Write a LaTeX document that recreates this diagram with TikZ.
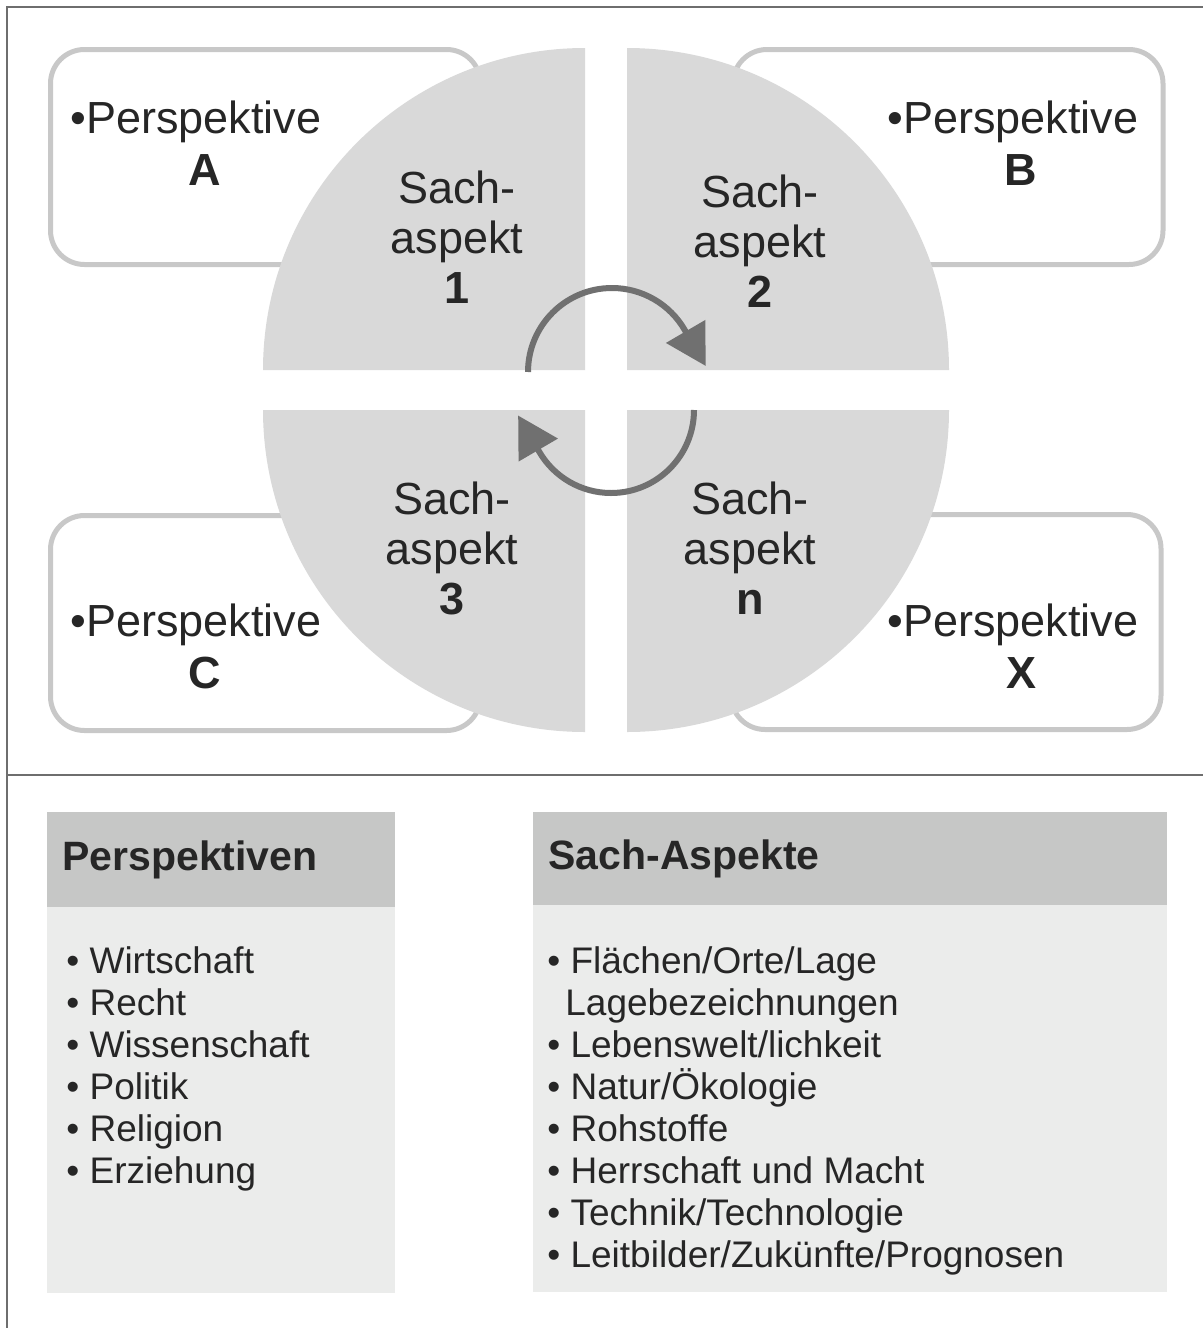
\documentclass[tikz,border=0pt]{standalone}
\usepackage{fontspec}
\setmainfont{Liberation Sans}
\usepackage{tikz}
\usetikzlibrary{arrows.meta}
\definecolor{quartgray}{RGB}{217,217,217}
\definecolor{rimgray}{RGB}{200,200,200}
\definecolor{headgray}{RGB}{198,199,198}
\definecolor{bodygray}{RGB}{235,236,235}
\definecolor{arrowgray}{RGB}{112,112,112}
\definecolor{framegray}{RGB}{110,110,110}
\definecolor{inkgray}{RGB}{38,38,38}
\tikzstyle{frame} = [draw=framegray, line width=1pt]
\tikzstyle{pbox} = [rectangle, draw=rimgray, line width=2.5pt, rounded corners=17pt, fill=white, minimum width=215pt, minimum height=107.5pt, inner sep=0pt]
\tikzstyle{quart} = [fill=quartgray]
\tikzstyle{ptext} = [inner sep=0pt, text=inkgray, font=\fontsize{22.5}{25}\selectfont]
\tikzstyle{sach} = [ptext, align=center]
\tikzstyle{turn} = [draw=arrowgray, line width=3pt, -{Triangle[length=20pt, width=22pt]}]
\tikzstyle{head} = [rectangle, fill=headgray, anchor=north west, inner xsep=7.5pt, inner ysep=0pt, align=left, text=inkgray, font=\bfseries\fontsize{20.5}{24}\selectfont]
\tikzstyle{body} = [rectangle, fill=bodygray, anchor=north west, inner sep=0pt]
\tikzstyle{item} = [inner sep=0pt, anchor=base west, text=inkgray, font=\fontsize{18.5}{21}\selectfont]

\begin{document}
\begin{tikzpicture}[x=0.5pt, y=-0.5pt]
			\useasboundingbox (0,0) rectangle (1203,1328);
			\path [frame] (7,1328) -- (7,7) -- (1203,7);
			\path [frame] (7,775) -- (1203,775);

			\node [pbox] (boxA) at (265.5,157) {};
			\node [pbox] (boxB) at (948,157) {};
			\node [pbox] (boxC) at (265.5,623) {};
			\node [pbox] (boxX) at (946,622) {};

			\fill [quart] (585,370) -- (263,370) arc [start angle=180, end angle=270, radius=322] -- cycle;
			\fill [quart] (627,370) -- (627,48) arc [start angle=270, end angle=360, radius=322] -- cycle;
			\fill [quart] (585,410) -- (263,410) arc [start angle=180, end angle=90, radius=322] -- cycle;
			\fill [quart] (627,410) -- (949,410) arc [start angle=0, end angle=90, radius=322] -- cycle;

			\node [ptext, anchor=base west] (perA) at (70,133) {•Perspektive};
			\node [ptext, anchor=base] (letA) at (205,185) {\bfseries A};
			\node [ptext, anchor=base west] (perB) at (887,133) {•Perspektive};
			\node [ptext, anchor=base] (letB) at (1021,185) {\bfseries B};
			\node [ptext, anchor=base west] (perC) at (70,636) {•Perspektive};
			\node [ptext, anchor=base] (letC) at (205,688) {\bfseries C};
			\node [ptext, anchor=base west] (perX) at (887,636) {•Perspektive};
			\node [ptext, anchor=base] (letX) at (1021,688) {\bfseries X};

			\node [sach] (sach1) at (457,237) {Sach-\\aspekt\\\textbf{1}};
			\node [sach] (sach2) at (760,241) {Sach-\\aspekt\\\textbf{2}};
			\node [sach] (sach3) at (452,548) {Sach-\\aspekt\\\textbf{3}};
			\node [sach] (sachn) at (750,548) {Sach-\\aspekt\\\textbf{n}};

			\coordinate (cyc1) at (528,372);
			\coordinate (cyc2) at (694,410);
			\path [turn] (cyc1) arc [start angle=180, end angle=330, radius=84] -- ++(21,36);
			\path [turn] (cyc2) arc [start angle=0, end angle=150, radius=83] -- ++(-21,-36);

			\node [head, text width=159pt, minimum height=47.5pt] (headP) at (47,812) {Perspektiven};
			\node [body, minimum width=174pt, minimum height=193pt] (bodyP) at (47,907) {};
			\node [head, text width=302pt, minimum height=46.5pt] (headS) at (533,812) {Sach-Aspekte};
			\node [body, minimum width=317pt, minimum height=193.5pt] (bodyS) at (533,905) {};

			\node [item] (p1) at (66,973) {• Wirtschaft};
			\node [item] (p2) at (66,1015) {• Recht};
			\node [item] (p3) at (66,1057) {• Wissenschaft};
			\node [item] (p4) at (66,1099) {• Politik};
			\node [item] (p5) at (66,1141) {• Religion};
			\node [item] (p6) at (66,1183) {• Erziehung};

			\node [item] (s1) at (547,973) {• Flächen/Orte/Lage};
			\node [item] (s2) at (565,1015) {Lagebezeichnungen};
			\node [item] (s3) at (547,1057) {• Lebenswelt/lichkeit};
			\node [item] (s4) at (547,1099) {• Natur/Ökologie};
			\node [item] (s5) at (547,1141) {• Rohstoffe};
			\node [item] (s6) at (547,1183) {• Herrschaft und Macht};
			\node [item] (s7) at (547,1225) {• Technik/Technologie};
			\node [item] (s8) at (547,1267) {• Leitbilder/Zukünfte/Prognosen};
		\end{tikzpicture}
\end{document}
